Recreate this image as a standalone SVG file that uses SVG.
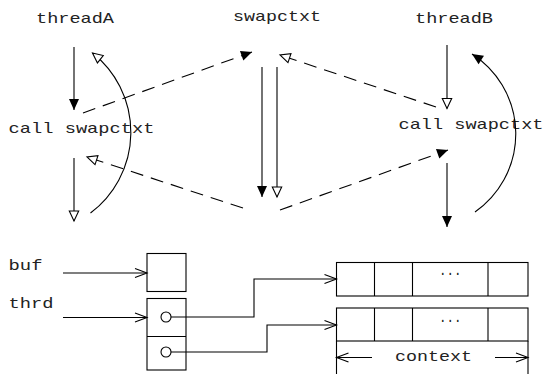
<svg xmlns="http://www.w3.org/2000/svg" width="544" height="374" viewBox="0 0 544 374">
  <style>
    .ln { fill: none; stroke: #000; stroke-width: 1.1; }
    .dash { stroke-dasharray: 13 8; }
    .box { fill: #fff; stroke: #000; stroke-width: 1.1; }
    .lbl { font-family: "Liberation Mono", "DejaVu Sans Mono", monospace; font-size: 15px; fill: #222; }
    .dots { font-family: "Liberation Mono", "DejaVu Sans Mono", monospace; font-size: 14px; fill: #222; }
  </style>
  <defs>
    <marker id="fillHead" viewBox="0 0 11 10" refX="11" refY="5" markerWidth="11" markerHeight="10" markerUnits="userSpaceOnUse" orient="auto" overflow="visible">
      <path d="M0,0 L11,5 L0,10 z" fill="#000"/>
    </marker>
    <marker id="openHead" viewBox="-1 -1 13 12" refX="10.5" refY="5" markerWidth="13" markerHeight="12" markerUnits="userSpaceOnUse" orient="auto" overflow="visible">
      <path d="M0.5,0.3 L10.5,5 L0.5,9.7 z" fill="#fff" stroke="#000" stroke-width="1.1"/>
    </marker>
    <marker id="chev" viewBox="-1 -1 14 12" refX="12" refY="5" markerWidth="14" markerHeight="12" markerUnits="userSpaceOnUse" orient="auto" overflow="visible">
      <path d="M0,0.5 L12,5 L0,9.5" fill="none" stroke="#000" stroke-width="1.1"/>
    </marker>
  </defs>

  <!-- top row labels -->
  <g id="threadA"><text class="lbl" x="36" y="22.5" textLength="78" lengthAdjust="spacingAndGlyphs">threadA</text></g>
  <g id="swapctxt"><text class="lbl" x="233" y="21" textLength="88" lengthAdjust="spacingAndGlyphs">swapctxt</text></g>
  <g id="threadB"><text class="lbl" x="415" y="22.5" textLength="78" lengthAdjust="spacingAndGlyphs">threadB</text></g>

  <!-- call sites -->
  <g id="callA"><text class="lbl" x="8.5" y="133" textLength="146" lengthAdjust="spacingAndGlyphs">call swapctxt</text></g>
  <g id="callB"><text class="lbl" x="398.5" y="128.5" textLength="145" lengthAdjust="spacingAndGlyphs">call swapctxt</text></g>

  <!-- memory layout -->
  <g id="buf">
    <text class="lbl" x="8.5" y="270" textLength="34" lengthAdjust="spacingAndGlyphs">buf</text>
    <rect class="box" x="147" y="253.5" width="39" height="38"/>
  </g>
  <g id="thrd">
    <text class="lbl" x="8.5" y="308" textLength="45" lengthAdjust="spacingAndGlyphs">thrd</text>
    <rect class="box" x="147" y="298.5" width="39" height="71.5"/>
    <line class="ln" x1="147" y1="336.5" x2="186" y2="336.5"/>
    <circle class="ln" cx="166" cy="317" r="5"/>
    <circle class="ln" cx="166" cy="352" r="5"/>
  </g>
  <g id="ctx1">
    <rect class="box" x="336.5" y="262.5" width="191.5" height="33.5"/>
    <path class="ln" d="M374.5,262.5 V296 M412.5,262.5 V296 M488,262.5 V296"/>
    <text class="dots" x="439" y="274.5" textLength="22.5" lengthAdjust="spacingAndGlyphs">...</text>
  </g>
  <g id="ctx2">
    <rect class="box" x="336.5" y="308" width="191.5" height="33"/>
    <path class="ln" d="M374.5,308 V341 M412.5,308 V341 M488,308 V341"/>
    <text class="dots" x="439" y="321.5" textLength="22.5" lengthAdjust="spacingAndGlyphs">...</text>
  </g>
  <g id="context">
    <path class="ln" d="M336.5,341 V374 M528,341 V374"/>
    <text class="lbl" x="395" y="361" textLength="77" lengthAdjust="spacingAndGlyphs">context</text>
  </g>

  <g id="connectors">
    <!-- thread A flow -->
    <path class="ln" d="M74,47 V110" marker-end="url(#fillHead)"/>
    <path class="ln" d="M74,158 V221" marker-end="url(#openHead)"/>
    <path class="ln" d="M90.5,213 A101,101 0 0 0 92.5,53" marker-end="url(#openHead)"/>
    <!-- swapctxt flow -->
    <path class="ln" d="M262,67 V197" marker-end="url(#fillHead)"/>
    <path class="ln" d="M277,67 V197" marker-end="url(#openHead)"/>
    <!-- thread B flow -->
    <path class="ln" d="M447,45 V108.5" marker-end="url(#openHead)"/>
    <path class="ln" d="M447,163 V227" marker-end="url(#fillHead)"/>
    <path class="ln" d="M475,212 A95,95 0 0 0 472,54" marker-end="url(#fillHead)"/>
    <!-- context switches -->
    <path class="ln dash" d="M83,113 L252,52" marker-end="url(#fillHead)"/>
    <path class="ln dash" d="M436,107 L280,55" marker-end="url(#openHead)"/>
    <path class="ln dash" d="M243,208 L87,157" marker-end="url(#openHead)"/>
    <path class="ln dash" d="M280,210 L448,150" marker-end="url(#fillHead)"/>
    <!-- pointers -->
    <path class="ln" d="M63,273 H147" marker-end="url(#chev)"/>
    <path class="ln" d="M63,317.5 H147" marker-end="url(#chev)"/>
    <path class="ln" d="M171,317 H254 V279 H336.5" marker-end="url(#chev)"/>
    <path class="ln" d="M171,352 H267 V325 H336.5" marker-end="url(#chev)"/>
    <!-- context width -->
    <path class="ln" d="M372,357.5 H336.5" marker-end="url(#chev)"/>
    <path class="ln" d="M495,357.5 H528" marker-end="url(#chev)"/>
  </g>
</svg>
